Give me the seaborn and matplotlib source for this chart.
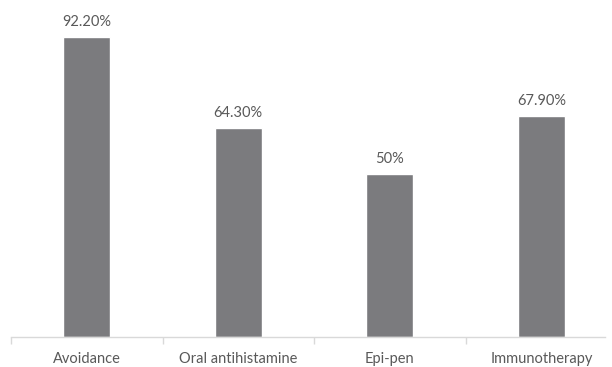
import matplotlib.pyplot as plt
import pandas as pd
import seaborn as sns

# Data
treatments = ['Avoidance', 'Oral antihistamine', 'Epi-pen', 'Immunotherapy']
percent = [92.2, 64.3, 50.0, 67.9]
value_labels = ['92.20%', '64.30%', '50%', '67.90%']

df = pd.DataFrame({'treatment': treatments, 'percent': percent})

sns.set_style('white')
plt.rcParams['font.family'] = ['Lato', 'DejaVu Sans']

fig = plt.figure(figsize=(6.12, 3.67), dpi=100)
ax = fig.add_axes([11 / 612, 30 / 367, 594 / 612, 337 / 367])

sns.barplot(data=df, x='treatment', y='percent', color='#7b7b7e',
            width=0.31, saturation=1, ax=ax)

# Value labels above the bars
for i, (v, lab) in enumerate(zip(percent, value_labels)):
    ax.annotate(lab, (i, v), xytext=(0, 6), textcoords='offset points',
                ha='center', va='bottom', fontsize=10.5, color='#595959')

ax.set_xlim(-0.5, 3.42)
ax.set_ylim(0, 103.6)
ax.set_xlabel('')
ax.set_ylabel('')
ax.set_yticks([])

# Category separators as tick marks, labels centred under bars
ax.set_xticks(range(len(treatments)))
ax.set_xticklabels(treatments, fontsize=10.5, color='#595959')
ax.tick_params(axis='x', which='major', bottom=True, length=0, pad=11)
ax.set_xticks([-0.5, 0.5, 1.5, 2.5], minor=True)
ax.tick_params(axis='x', which='minor', bottom=True, length=5, width=1,
               color='#d9d9d9', direction='out')

for side in ['top', 'right', 'left']:
    ax.spines[side].set_visible(False)
ax.spines['bottom'].set_color('#d9d9d9')
ax.spines['bottom'].set_linewidth(1)

fig.savefig('out.png', dpi=100)
